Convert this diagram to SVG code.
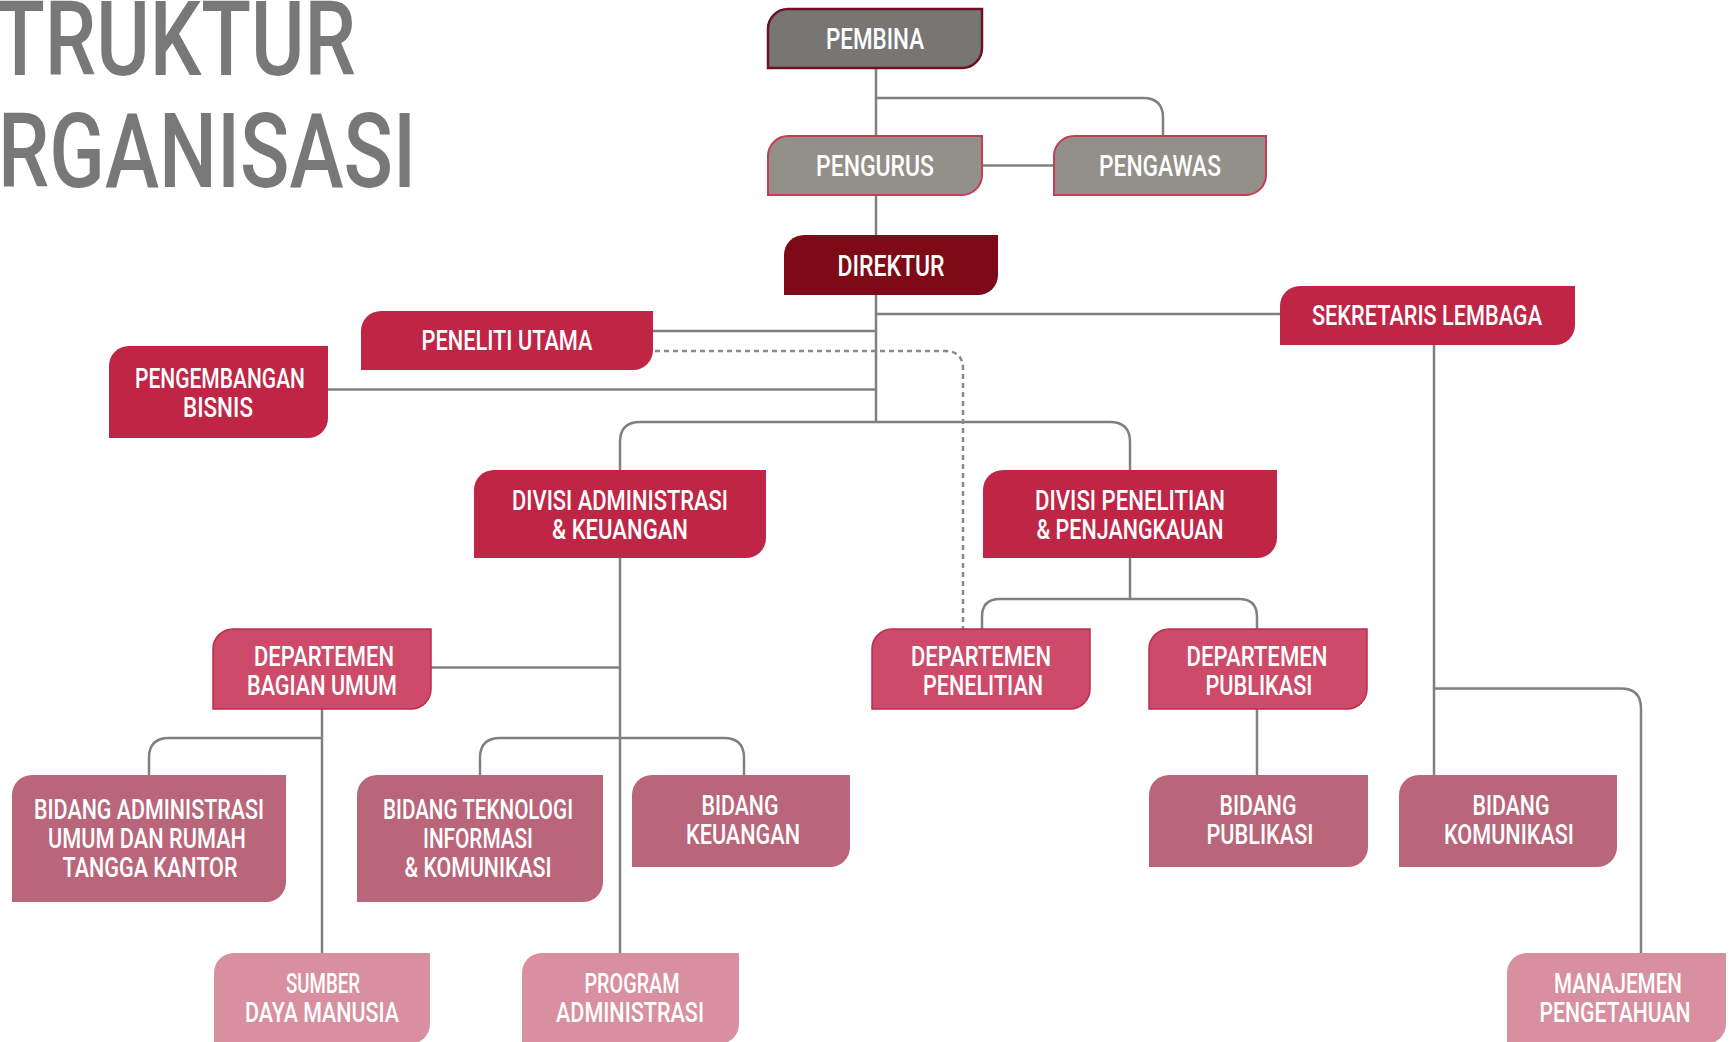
<svg xmlns="http://www.w3.org/2000/svg" width="1730" height="1042" viewBox="0 0 1730 1042">
  <style>
    .title { font-family: Roboto, "Liberation Sans", sans-serif; font-weight: 500; font-size: 104px; fill: #787878; }
    .lbl { font-family: Roboto, "Liberation Sans", sans-serif; font-weight: 500; font-size: 27px; fill: #ffffff; text-anchor: middle; }
    .lbl.big { font-size: 29px; }
    .wire { fill: none; stroke: #808080; stroke-width: 2.5; }
    .dots { fill: none; stroke: #8a8a8a; stroke-width: 2.5; stroke-dasharray: 5 4; }
    .pembina { fill: #787675; stroke: #6d1222; stroke-width: 2.5; }
    .board { fill: #938f89; stroke: #c93a55; stroke-width: 2; }
    .director { fill: #7d0a16; }
    .red { fill: #bf2545; }
    .dept { fill: #cd4a69; stroke: #bd2d4b; stroke-width: 1.5; }
    .unit { fill: #b9657a; }
    .light { fill: #d88fa0; }
  </style>
  <rect width="1730" height="1042" fill="#ffffff"/>

  <!-- heading -->
  <g id="heading">
    <text class="title" x="-5" y="75" textLength="361" lengthAdjust="spacingAndGlyphs">TRUKTUR</text>
    <text class="title" x="-2" y="187" textLength="418" lengthAdjust="spacingAndGlyphs">RGANISASI</text>
  </g>

  <!-- connectors, drawn beneath the boxes -->
  <g id="connectors">
    <path class="wire" d="M876,68 V422"/>
    <path class="wire" d="M876,98 H1143 Q1163,98 1163,118 V136"/>
    <path class="wire" d="M982,165.5 H1054"/>
    <path class="wire" d="M876,314 H1280"/>
    <path class="wire" d="M653,331 H876"/>
    <path class="wire" d="M328,389.5 H876"/>
    <path class="wire" d="M620,470 V442 Q620,422 640,422 H1110 Q1130,422 1130,442 V470"/>
    <path class="dots" d="M655,351 H945 Q963,351 963,369 V629"/>
    <path class="wire" d="M620,558 V953"/>
    <path class="wire" d="M431,667.5 H620"/>
    <path class="wire" d="M480,775 V758 Q480,738 500,738 H724 Q744,738 744,758 V775"/>
    <path class="wire" d="M322,709 V953"/>
    <path class="wire" d="M322,738 H169 Q149,738 149,758 V775"/>
    <path class="wire" d="M1130,558 V599"/>
    <path class="wire" d="M982,629 V617 Q982,599 1000,599 H1239 Q1257,599 1257,617 V629"/>
    <path class="wire" d="M1257,709 V775"/>
    <path class="wire" d="M1434,345 V775"/>
    <path class="wire" d="M1434,688.5 H1621 Q1641,688.5 1641,708.5 V953"/>
  </g>

  <!-- top level -->
  <g id="pembina">
    <path class="pembina" d="M768,68 V29 A20,20 0 0 1 788,9 H982 V48 A20,20 0 0 1 962,68 Z"/>
    <text class="lbl big" x="875" y="49" textLength="98" lengthAdjust="spacingAndGlyphs">PEMBINA</text>
  </g>
  <g id="pengurus">
    <path class="board" d="M768,195 V156 A20,20 0 0 1 788,136 H982 V175 A20,20 0 0 1 962,195 Z"/>
    <text class="lbl big" x="875" y="176" textLength="118" lengthAdjust="spacingAndGlyphs">PENGURUS</text>
  </g>
  <g id="pengawas">
    <path class="board" d="M1054,195 V156 A20,20 0 0 1 1074,136 H1266 V175 A20,20 0 0 1 1246,195 Z"/>
    <text class="lbl big" x="1160" y="176" textLength="122" lengthAdjust="spacingAndGlyphs">PENGAWAS</text>
  </g>
  <g id="direktur">
    <path class="director" d="M784,295 V255 A20,20 0 0 1 804,235 H998 V275 A20,20 0 0 1 978,295 Z"/>
    <text class="lbl big" x="891" y="276" textLength="107" lengthAdjust="spacingAndGlyphs">DIREKTUR</text>
  </g>

  <!-- staff units under the director -->
  <g id="sekretaris-lembaga">
    <path class="red" d="M1280,345 V306 A20,20 0 0 1 1300,286 H1575 V325 A20,20 0 0 1 1555,345 Z"/>
    <text class="lbl" x="1427" y="325" textLength="230" lengthAdjust="spacingAndGlyphs">SEKRETARIS LEMBAGA</text>
  </g>
  <g id="peneliti-utama">
    <path class="red" d="M361,370 V331 A20,20 0 0 1 381,311 H653 V350 A20,20 0 0 1 633,370 Z"/>
    <text class="lbl" x="507" y="350" textLength="171" lengthAdjust="spacingAndGlyphs">PENELITI UTAMA</text>
  </g>
  <g id="pengembangan-bisnis">
    <path class="red" d="M109,438 V366 A20,20 0 0 1 129,346 H328 V418 A20,20 0 0 1 308,438 Z"/>
    <text class="lbl" x="220" y="388" textLength="170" lengthAdjust="spacingAndGlyphs">PENGEMBANGAN</text>
    <text class="lbl" x="218" y="417" textLength="70" lengthAdjust="spacingAndGlyphs">BISNIS</text>
  </g>

  <!-- divisions -->
  <g id="divisi-administrasi-keuangan">
    <path class="red" d="M474,558 V490 A20,20 0 0 1 494,470 H766 V538 A20,20 0 0 1 746,558 Z"/>
    <text class="lbl" x="620" y="510" textLength="216" lengthAdjust="spacingAndGlyphs">DIVISI ADMINISTRASI</text>
    <text class="lbl" x="620" y="539" textLength="136" lengthAdjust="spacingAndGlyphs">&amp; KEUANGAN</text>
  </g>
  <g id="divisi-penelitian-penjangkauan">
    <path class="red" d="M983,558 V490 A20,20 0 0 1 1003,470 H1277 V538 A20,20 0 0 1 1257,558 Z"/>
    <text class="lbl" x="1130" y="510" textLength="190" lengthAdjust="spacingAndGlyphs">DIVISI PENELITIAN</text>
    <text class="lbl" x="1130" y="539" textLength="187" lengthAdjust="spacingAndGlyphs">&amp; PENJANGKAUAN</text>
  </g>

  <!-- departments -->
  <g id="departemen-bagian-umum">
    <path class="dept" d="M213,709 V649 A20,20 0 0 1 233,629 H431 V689 A20,20 0 0 1 411,709 Z"/>
    <text class="lbl" x="324" y="666" textLength="140" lengthAdjust="spacingAndGlyphs">DEPARTEMEN</text>
    <text class="lbl" x="322" y="695" textLength="150" lengthAdjust="spacingAndGlyphs">BAGIAN UMUM</text>
  </g>
  <g id="departemen-penelitian">
    <path class="dept" d="M872,709 V649 A20,20 0 0 1 892,629 H1090 V689 A20,20 0 0 1 1070,709 Z"/>
    <text class="lbl" x="981" y="666" textLength="140" lengthAdjust="spacingAndGlyphs">DEPARTEMEN</text>
    <text class="lbl" x="983" y="695" textLength="120" lengthAdjust="spacingAndGlyphs">PENELITIAN</text>
  </g>
  <g id="departemen-publikasi">
    <path class="dept" d="M1149,709 V649 A20,20 0 0 1 1169,629 H1367 V689 A20,20 0 0 1 1347,709 Z"/>
    <text class="lbl" x="1257" y="666" textLength="141" lengthAdjust="spacingAndGlyphs">DEPARTEMEN</text>
    <text class="lbl" x="1259" y="695" textLength="107" lengthAdjust="spacingAndGlyphs">PUBLIKASI</text>
  </g>

  <!-- sections -->
  <g id="bidang-administrasi-umum">
    <path class="unit" d="M12,902 V795 A20,20 0 0 1 32,775 H286 V882 A20,20 0 0 1 266,902 Z"/>
    <text class="lbl" x="149" y="819" textLength="230" lengthAdjust="spacingAndGlyphs">BIDANG ADMINISTRASI</text>
    <text class="lbl" x="147" y="848" textLength="198" lengthAdjust="spacingAndGlyphs">UMUM DAN RUMAH</text>
    <text class="lbl" x="150" y="877" textLength="175" lengthAdjust="spacingAndGlyphs">TANGGA KANTOR</text>
  </g>
  <g id="bidang-teknologi-informasi">
    <path class="unit" d="M357,902 V795 A20,20 0 0 1 377,775 H603 V882 A20,20 0 0 1 583,902 Z"/>
    <text class="lbl" x="478" y="819" textLength="190" lengthAdjust="spacingAndGlyphs">BIDANG TEKNOLOGI</text>
    <text class="lbl" x="478" y="848" textLength="110" lengthAdjust="spacingAndGlyphs">INFORMASI</text>
    <text class="lbl" x="478" y="877" textLength="147" lengthAdjust="spacingAndGlyphs">&amp; KOMUNIKASI</text>
  </g>
  <g id="bidang-keuangan">
    <path class="unit" d="M632,867 V795 A20,20 0 0 1 652,775 H850 V847 A20,20 0 0 1 830,867 Z"/>
    <text class="lbl" x="740" y="815" textLength="77" lengthAdjust="spacingAndGlyphs">BIDANG</text>
    <text class="lbl" x="743" y="844" textLength="114" lengthAdjust="spacingAndGlyphs">KEUANGAN</text>
  </g>
  <g id="bidang-publikasi">
    <path class="unit" d="M1149,867 V795 A20,20 0 0 1 1169,775 H1368 V847 A20,20 0 0 1 1348,867 Z"/>
    <text class="lbl" x="1258" y="815" textLength="77" lengthAdjust="spacingAndGlyphs">BIDANG</text>
    <text class="lbl" x="1260" y="844" textLength="107" lengthAdjust="spacingAndGlyphs">PUBLIKASI</text>
  </g>
  <g id="bidang-komunikasi">
    <path class="unit" d="M1399,867 V795 A20,20 0 0 1 1419,775 H1617 V847 A20,20 0 0 1 1597,867 Z"/>
    <text class="lbl" x="1511" y="815" textLength="77" lengthAdjust="spacingAndGlyphs">BIDANG</text>
    <text class="lbl" x="1509" y="844" textLength="130" lengthAdjust="spacingAndGlyphs">KOMUNIKASI</text>
  </g>

  <!-- lowest level -->
  <g id="sumber-daya-manusia">
    <path class="light" d="M214,1044 V973 A20,20 0 0 1 234,953 H430 V1024 A20,20 0 0 1 410,1044 Z"/>
    <text class="lbl" x="323" y="993" textLength="74" lengthAdjust="spacingAndGlyphs">SUMBER</text>
    <text class="lbl" x="322" y="1022" textLength="154" lengthAdjust="spacingAndGlyphs">DAYA MANUSIA</text>
  </g>
  <g id="program-administrasi">
    <path class="light" d="M522,1044 V973 A20,20 0 0 1 542,953 H739 V1024 A20,20 0 0 1 719,1044 Z"/>
    <text class="lbl" x="632" y="993" textLength="95" lengthAdjust="spacingAndGlyphs">PROGRAM</text>
    <text class="lbl" x="630" y="1022" textLength="148" lengthAdjust="spacingAndGlyphs">ADMINISTRASI</text>
  </g>
  <g id="manajemen-pengetahuan">
    <path class="light" d="M1507,1044 V973 A20,20 0 0 1 1527,953 H1726 V1024 A20,20 0 0 1 1706,1044 Z"/>
    <text class="lbl" x="1618" y="993" textLength="128" lengthAdjust="spacingAndGlyphs">MANAJEMEN</text>
    <text class="lbl" x="1615" y="1022" textLength="151" lengthAdjust="spacingAndGlyphs">PENGETAHUAN</text>
  </g>
</svg>
